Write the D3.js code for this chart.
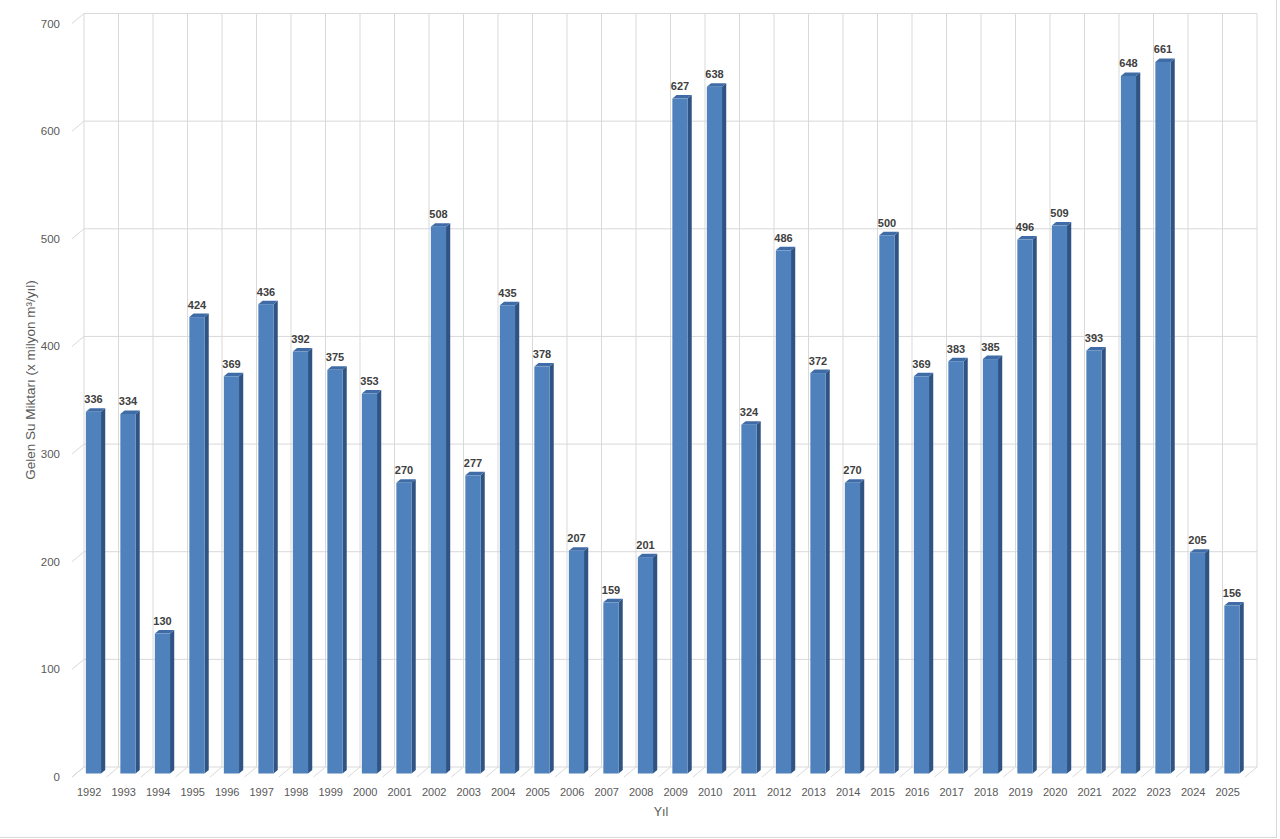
<!DOCTYPE html>
<html><head><meta charset="utf-8">
<script src="https://cdn.jsdelivr.net/npm/d3@7"></script>
<style>
html,body{margin:0;padding:0;background:#fff;}
svg{display:block;font-family:"Liberation Sans",Arial,sans-serif;}
</style></head>
<body>
<svg id="chart" width="1280" height="839"></svg>
<script>
const years = ["1992","1993","1994","1995","1996","1997","1998","1999","2000","2001","2002","2003","2004","2005","2006","2007","2008","2009","2010","2011","2012","2013","2014","2015","2016","2017","2018","2019","2020","2021","2022","2023","2024","2025"];
const values = [336,334,130,424,369,436,392,375,353,270,508,277,435,378,207,159,201,627,638,324,486,372,270,500,369,383,385,496,509,393,648,661,205,156];
const yTicks = [0,100,200,300,400,500,600,700];
const yTitle = "Gelen Su Miktarı (x milyon m³/yıl)";
const xTitle = "Yıl";

const svg = d3.select("#chart");
const DX = 12, DY = -10;
const x = d3.scaleBand().domain(years).range([72, 1245]).padding(0);
const y = d3.scaleLinear().domain([0, 700]).range([777, 23.5]);
const step = x.step();
const P = (px, py, d) => [px + d * DX, py + d * DY];

svg.append("rect").attr("x", -1).attr("y", -1).attr("width", 1277.5).attr("height", 838.5)
  .attr("fill", "none").attr("stroke", "#d9d9d9").attr("stroke-width", 1);

const grid = svg.append("g").attr("stroke", "#d9d9d9").attr("stroke-width", 1).attr("fill", "none");
const x0 = x.range()[0], x1 = x.range()[1];
yTicks.forEach(v => {
  const [bx, by] = P(x0, y(v), 1);
  const [ex] = P(x1, y(v), 1);
  grid.append("line").attr("x1", bx).attr("y1", by).attr("x2", ex).attr("y2", by);
  grid.append("line").attr("x1", x0).attr("y1", y(v)).attr("x2", bx).attr("y2", by);
});
const bounds = years.map(d => x(d)).concat([x1]);
bounds.forEach(bx0 => {
  const [bx, byTop] = P(bx0, y(700), 1);
  const [, byBot] = P(bx0, y(0), 1);
  grid.append("line").attr("x1", bx).attr("y1", byTop).attr("x2", bx).attr("y2", byBot);
  grid.append("line").attr("x1", bx0).attr("y1", y(0)).attr("x2", bx).attr("y2", byBot);
});

const dF = 0.35, dB = 0.70;
const bw = step * 0.44;
const bars = svg.append("g");
years.forEach((yr, i) => {
  const v = values[i];
  const cx = x(yr) + step / 2;
  const fx0 = cx - bw / 2 + dF * DX, fx1 = cx + bw / 2 + dF * DX;
  const fyT = y(v) + dF * DY, fyB = y(0) + dF * DY;
  const ddx = (dB - dF) * DX, ddy = (dB - dF) * DY;
  bars.append("path").attr("d", `M${fx1},${fyT}L${fx1 + ddx},${fyT + ddy}L${fx1 + ddx},${fyB + ddy}L${fx1},${fyB}Z`)
    .attr("fill", "#2f5382");
  bars.append("path").attr("d", `M${fx0},${fyT}L${fx1},${fyT}L${fx1 + ddx},${fyT + ddy}L${fx0 + ddx},${fyT + ddy}Z`)
    .attr("fill", "#3f6ca6");
  bars.append("rect").attr("x", fx0).attr("y", fyT).attr("width", bw).attr("height", fyB - fyT)
    .attr("fill", "#4f81bd");
  bars.append("text").attr("x", cx + dF * DX).attr("y", fyT - 8.5)
    .attr("text-anchor", "middle").attr("font-size", 11).attr("font-weight", "bold")
    .attr("fill", "#404040").text(v);
});

svg.append("g").selectAll("text").data(yTicks).join("text")
  .attr("x", 60).attr("y", d => y(d) + 4).attr("text-anchor", "end")
  .attr("font-size", 11.5).attr("fill", "#595959").text(d => d);
svg.append("g").selectAll("text").data(years).join("text")
  .attr("x", d => x(d) + step / 2).attr("y", 796).attr("text-anchor", "middle")
  .attr("font-size", 11).attr("fill", "#595959").text(d => d);
svg.append("text").attr("transform", "translate(35,380) rotate(-90)").attr("text-anchor", "middle")
  .attr("font-size", 13.5).attr("fill", "#595959").text(yTitle);
svg.append("text").attr("x", 661).attr("y", 816).attr("text-anchor", "middle")
  .attr("font-size", 12.5).attr("fill", "#595959").text(xTitle);
</script>
</body></html>
